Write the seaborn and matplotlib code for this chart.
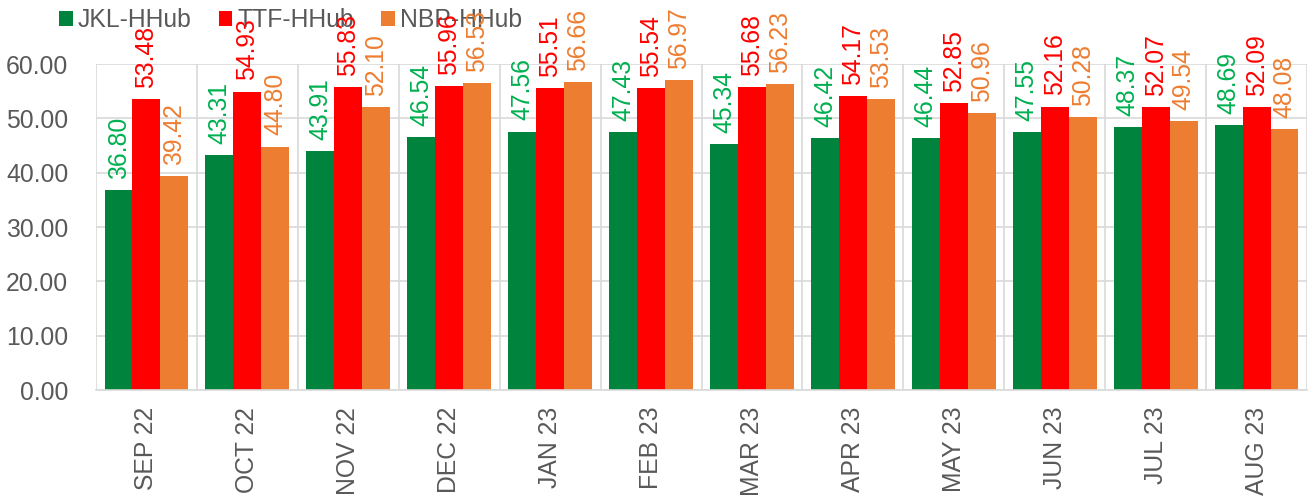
import pandas as pd
import seaborn as sns
import matplotlib.pyplot as plt
from matplotlib.patches import Patch
from matplotlib.ticker import FixedLocator, FormatStrFormatter

# --- DATA ---
months = ["SEP 22", "OCT 22", "NOV 22", "DEC 22", "JAN 23", "FEB 23",
          "MAR 23", "APR 23", "MAY 23", "JUN 23", "JUL 23", "AUG 23"]
series = ["JKL-HHub", "TTF-HHub", "NBP-HHub"]
jkl = [36.80, 43.31, 43.91, 46.54, 47.56, 47.43, 45.34, 46.42, 46.44, 47.55, 48.37, 48.69]
ttf = [53.48, 54.93, 55.83, 55.96, 55.51, 55.54, 55.68, 54.17, 52.85, 52.16, 52.07, 52.09]
nbp = [39.42, 44.80, 52.10, 56.53, 56.66, 56.97, 56.23, 53.53, 50.96, 50.28, 49.54, 48.08]

bar_colors = ["#00843D", "#FF0000", "#ED7D31"]
label_colors = ["#00B050", "#FF0000", "#ED7D31"]
TEXT = "#595959"
GRID = "#D9D9D9"
FS = 17.8

df = pd.DataFrame({
    "month": months * 3,
    "series": [s for s in series for _ in months],
    "value": jkl + ttf + nbp,
})

sns.set_theme(style="white")
plt.rcParams["font.family"] = ["Liberation Sans", "DejaVu Sans"]

fig = plt.figure(figsize=(13.15, 4.97), dpi=100)
ax = fig.add_axes([96 / 1315, 1 - 390 / 497, (1307 - 96) / 1315, (390 - 64) / 497])

sns.barplot(data=df, x="month", y="value", hue="series", order=months,
            hue_order=series, palette=bar_colors, width=0.83, gap=0,
            linewidth=0, saturation=1, ax=ax, legend=False)

# labels above bars
for cont, col in zip(ax.containers, label_colors):
    for t in ax.bar_label(cont, fmt="%.2f", rotation=90, padding=8,
                          color=col, fontsize=FS):
        t.set_zorder(6)

ax.set_ylim(0, 60)
ax.set_xlim(-0.5, len(months) - 0.5)
ax.yaxis.set_major_locator(FixedLocator(range(0, 61, 10)))
ax.yaxis.set_major_formatter(FormatStrFormatter("%.2f"))
ax.xaxis.set_minor_locator(FixedLocator([i - 0.5 for i in range(len(months) + 1)]))

ax.grid(axis="y", which="major", color=GRID, lw=1.2)
ax.grid(axis="x", which="minor", color=GRID, lw=1.2)
ax.set_axisbelow(True)
for side in ["top", "right", "left"]:
    ax.spines[side].set_visible(False)
ax.spines["bottom"].set_color(GRID)
ax.spines["bottom"].set_linewidth(1.2)

ax.tick_params(axis="y", length=0, pad=20, labelsize=FS, labelcolor=TEXT)
ax.tick_params(axis="x", which="both", length=0, pad=12, labelsize=FS,
               labelcolor=TEXT)
plt.setp(ax.get_xticklabels(), rotation=90)
ax.set_xlabel("")
ax.set_ylabel("")

handles = [Patch(facecolor=c, edgecolor="none") for c in bar_colors]
leg = ax.legend(handles, series, loc="center left", ncol=3, frameon=False,
                bbox_to_anchor=(59 / 1315, 1 - 20 / 497),
                bbox_transform=fig.transFigure, fontsize=FS,
                handlelength=0.55, handleheight=0.55, handletextpad=0.2,
                columnspacing=1.1, borderaxespad=0, borderpad=0)
for txt in leg.get_texts():
    txt.set_color(TEXT)
leg.set_zorder(5)

fig.savefig("out.png", dpi=100)
